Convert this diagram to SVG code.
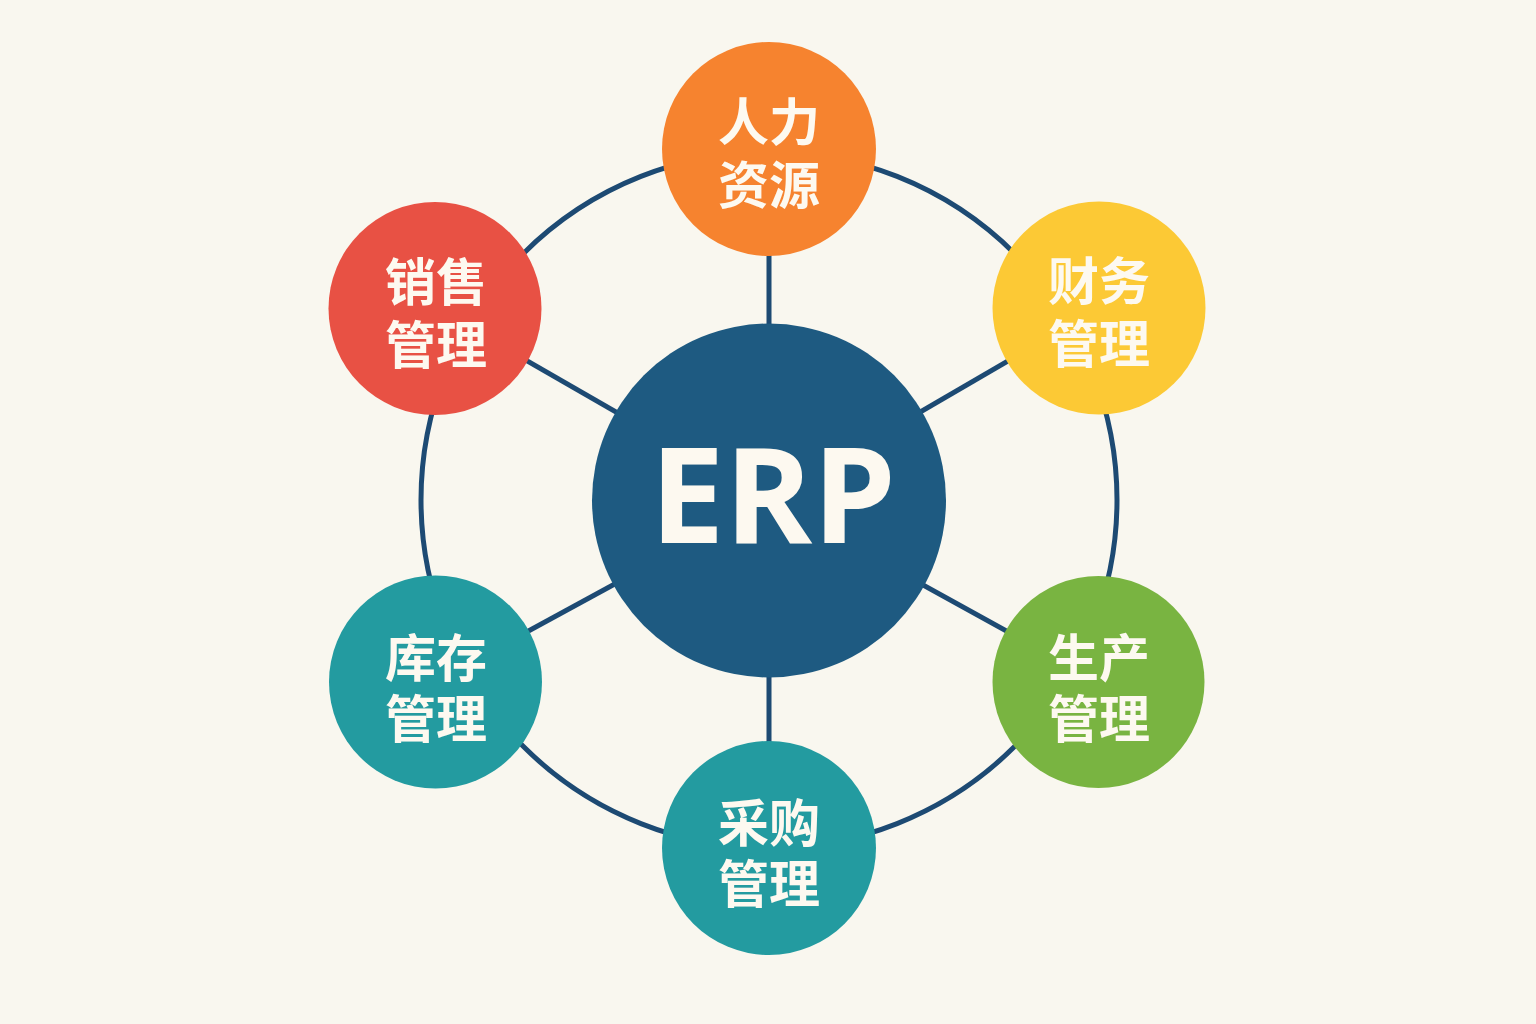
<svg xmlns="http://www.w3.org/2000/svg" width="1536" height="1024" viewBox="0 0 1536 1024">
<style>
.lbl{font-family:"Noto Sans CJK SC","Noto Sans",sans-serif;font-weight:700;font-size:51px;fill:#fdf9f0;text-anchor:middle;dominant-baseline:central}
.erp{font-family:"Open Sans","Noto Sans",sans-serif;font-weight:700;font-size:133px;fill:#fdf9f0;text-anchor:middle}
.conn{stroke:#1d4a73;stroke-width:5;fill:none}
</style>
<rect width="1536" height="1024" fill="#f9f7ef"/>
<g id="connectors">
<circle class="conn" cx="769" cy="500" r="348"/>
<line class="conn" x1="769" y1="150" x2="769" y2="500"/>
<line class="conn" x1="769" y1="500" x2="769" y2="848"/>
<line class="conn" x1="435" y1="308" x2="769" y2="500"/>
<line class="conn" x1="1099" y1="308" x2="769" y2="500"/>
<line class="conn" x1="435" y1="682" x2="769" y2="500"/>
<line class="conn" x1="1099" y1="682" x2="769" y2="500"/>
</g>
<g id="erp">
<circle cx="769" cy="500.5" r="177" fill="#1e5a81"/>
<text class="erp" x="773" y="543">ERP</text>
</g>
<g id="hr">
<circle cx="769" cy="149" r="107" fill="#f6832f"/>
<text class="lbl" x="769" y="119">人力</text>
<text class="lbl" x="769" y="182">资源</text>
</g>
<g id="sales">
<circle cx="435" cy="308.5" r="106.5" fill="#e85144"/>
<text class="lbl" x="436" y="278.5">销售</text>
<text class="lbl" x="436" y="341.5">管理</text>
</g>
<g id="finance">
<circle cx="1099" cy="308" r="106.5" fill="#fcc935"/>
<text class="lbl" x="1099" y="278">财务</text>
<text class="lbl" x="1099" y="341">管理</text>
</g>
<g id="inventory">
<circle cx="435.5" cy="682" r="106.5" fill="#239ba0"/>
<text class="lbl" x="436" y="655">库存</text>
<text class="lbl" x="436" y="716">管理</text>
</g>
<g id="production">
<circle cx="1098.5" cy="682" r="106" fill="#79b441"/>
<text class="lbl" x="1099" y="655">生产</text>
<text class="lbl" x="1099" y="716">管理</text>
</g>
<g id="purchase">
<circle cx="769" cy="848" r="107" fill="#239ba0"/>
<text class="lbl" x="769" y="820">采购</text>
<text class="lbl" x="769" y="881">管理</text>
</g>
</svg>
